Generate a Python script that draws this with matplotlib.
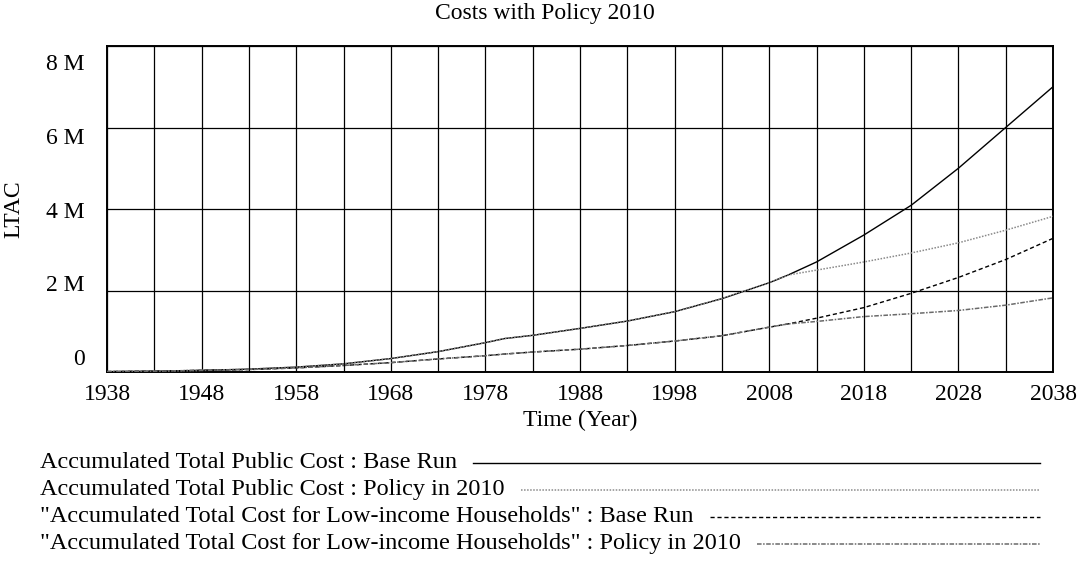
import matplotlib
matplotlib.use("Agg")
import matplotlib.pyplot as plt
from matplotlib.lines import Line2D
from matplotlib.transforms import ScaledTranslation

# ---- data (values in millions) ----
years = [1938, 1943, 1948, 1953, 1958, 1963, 1968, 1973, 1978, 1980, 1983,
         1988, 1993, 1998, 2003, 2008, 2010, 2013, 2018, 2023, 2028, 2033, 2038]
base_public = [0.01, 0.02, 0.04, 0.07, 0.12, 0.20, 0.33, 0.50, 0.72, 0.82, 0.90,
               1.07, 1.25, 1.48, 1.80, 2.19, 2.38, 2.70, 3.36, 4.09, 5.00, 6.00, 7.00]
policy_public = [0.01, 0.02, 0.04, 0.07, 0.12, 0.20, 0.33, 0.50, 0.72, 0.82, 0.90,
                 1.07, 1.25, 1.48, 1.80, 2.19, 2.38, 2.50, 2.70, 2.92, 3.17, 3.48, 3.82]
base_low = [0.01, 0.02, 0.04, 0.06, 0.10, 0.16, 0.23, 0.32, 0.40, 0.44, 0.49,
            0.56, 0.65, 0.76, 0.89, 1.10, 1.18, 1.32, 1.58, 1.93, 2.32, 2.76, 3.28]
policy_low = [0.01, 0.02, 0.04, 0.06, 0.10, 0.16, 0.23, 0.32, 0.40, 0.44, 0.49,
              0.56, 0.65, 0.76, 0.89, 1.10, 1.18, 1.24, 1.36, 1.43, 1.51, 1.64, 1.82]

series_labels = [
    "Accumulated Total Public Cost : Base Run",
    "Accumulated Total Public Cost : Policy in 2010",
    "\"Accumulated Total Cost for Low-income Households\" : Base Run",
    "\"Accumulated Total Cost for Low-income Households\" : Policy in 2010",
]
x_ticks = list(range(1938, 2039, 10))
x_grid = list(range(1938, 2039, 5))
y_ticks = [0, 2, 4, 6, 8]
y_tick_labels = ["0", "2 M", "4 M", "6 M", "8 M"]

title = "Costs with Policy 2010"
xlabel = "Time (Year)"
ylabel = "LTAC"

# ---- styling ----
FONT = "Liberation Serif"
FS = 17
LFS = 17.5
plt.rcParams["font.family"] = FONT

styles = [
    dict(color="black", lw=1.0, ls="-"),
    dict(color="#8a8a8a", lw=1.1, ls=(0, (1, 1))),
    dict(color="black", lw=1.0, ls=(0, (3, 2))),
    dict(color="#6a6a6a", lw=1.1, ls=(0, (3, 1, 1, 1))),
]
series = [base_public, policy_public, base_low, policy_low]

W, H = 1078, 563
fig = plt.figure(figsize=(W / 100, H / 100), dpi=100)
ax = fig.add_axes([107 / W, 1 - 372 / H, (1053 - 107) / W, (372 - 46) / H])

for xg in x_grid:
    ax.axvline(xg, color="black", lw=0.9, zorder=1)
for yg in y_ticks:
    ax.axhline(yg, color="black", lw=0.9, zorder=1)

for vals, st in zip(series, styles):
    ax.plot(years, vals, zorder=3, **st)

ax.set_xlim(1938, 2038)
ax.set_ylim(0, 8)
ax.set_xticks(x_ticks)
ax.set_xticklabels([str(x) for x in x_ticks], fontsize=FS)
ax.set_yticks(y_ticks)
ax.set_yticklabels(y_tick_labels, fontsize=FS)
ax.tick_params(length=0)
ax.tick_params(axis="x", pad=9)
ax.tick_params(axis="y", pad=16)
for s in ax.spines.values():
    s.set_linewidth(1.4)
    s.set_color("black")

# Vensim-style spreading of y tick labels
for val, lab in zip(y_ticks, ax.get_yticklabels()):
    dy = (15 - 31 * val / 8) / 100.0
    lab.set_transform(lab.get_transform() + ScaledTranslation(0, dy, fig.dpi_scale_trans))

fig.text(545 / W, 1 - 14 / H, title, ha="center", va="center", fontsize=FS)
fig.text(580 / W, 1 - 420 / H, xlabel, ha="center", va="center", fontsize=FS)
fig.text(14 / W, 1 - 209 / H, ylabel, ha="center", va="center", rotation=90, fontsize=FS)

# ---- legend below ----
row_y = [463, 490, 517, 544]
text_x = 40
line_end = 1040
fig.canvas.draw()
renderer = fig.canvas.get_renderer()
for lab, ry, st in zip(series_labels, row_y, styles):
    t = fig.text(text_x / W, 1 - ry / H, lab, ha="left", va="center", fontsize=LFS)
    bb = t.get_window_extent(renderer=renderer)
    x0 = (bb.x1 + 16) / W
    fig.add_artist(Line2D([x0, line_end / W], [1 - ry / H, 1 - ry / H],
                          transform=fig.transFigure, **st))

fig.savefig("out.png", dpi=100)
